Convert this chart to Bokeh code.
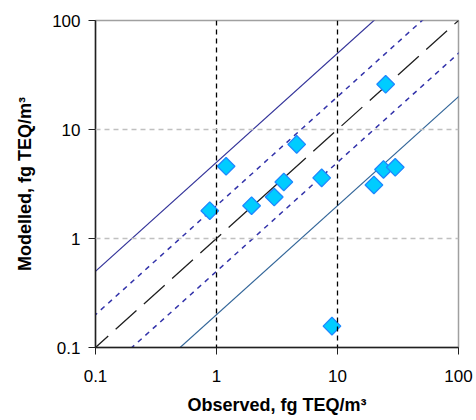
import math
from bokeh.plotting import figure
from bokeh.models import Range1d, FixedTicker, Span
from bokeh.embed import file_html
from bokeh.resources import INLINE

observed = [0.88, 1.2, 1.95, 3.0, 3.6, 4.6, 7.4, 9.0, 20, 24, 30, 25]
modelled = [1.8, 4.6, 2.0, 2.4, 3.3, 7.3, 3.6, 0.157, 3.1, 4.3, 4.5, 26]

ticks = [0.1, 1, 10, 100]
tick_labels = {0.1: "0.1", 1: "1", 10: "10", 100: "100"}
factors = [5, 2, 1, 0.5, 0.2]
factor_colors = ["#333399", "#3333AA", "#202020", "#3333AA", "#336699"]
factor_dash = ["solid", "5 5", "28 10", "5 5", "solid"]
factor_width = [1.2, 1.5, 1.3, 1.5, 1.2]
line_x = [0.01, 1000]

p = figure(width=476, height=418, x_axis_type="log", y_axis_type="log",
           x_range=Range1d(0.1, 100), y_range=Range1d(0.1, 100),
           output_backend="svg", toolbar_location=None,
           min_border_left=95, min_border_right=18, min_border_top=20, min_border_bottom=71)

p.outline_line_color = "#A0A0A0"
p.outline_line_width = 1.5
p.xgrid.visible = False
p.ygrid.visible = False
p.background_fill_color = "white"
p.border_fill_color = "white"

for v in [1, 10]:
    p.add_layout(Span(location=v, dimension="width", line_color="#C0C0C0",
                      line_dash="5 4", line_width=1.3))
    p.add_layout(Span(location=v, dimension="height", line_color="#000000",
                      line_dash="5 4", line_width=1.3))

for f, c, d, w in zip(factors, factor_colors, factor_dash, factor_width):
    p.line(line_x, [f * x for x in line_x], line_color=c, line_dash=d, line_width=w)

p.scatter(observed, modelled, marker="square", size=12.5, angle=math.pi / 4,
          fill_color="#00CCFF", line_color="#1E88FF", line_width=1.3)

for ax in (p.xaxis, p.yaxis):
    ax.ticker = FixedTicker(ticks=ticks, minor_ticks=[])
    ax.major_label_overrides = tick_labels
    ax.major_label_text_font = "Liberation Sans"
    ax.major_label_text_font_size = "17px"
    ax.major_label_text_color = "#000000"
    ax.axis_label_text_font = "Liberation Sans"
    ax.axis_label_text_font_size = "18px"
    ax.axis_label_text_font_style = "bold"
    ax.axis_label_text_color = "#000000"
    ax.axis_line_color = "#202020"
    ax.axis_line_width = 1.5
    ax.major_tick_line_color = "#202020"
    ax.major_tick_out = 7
    ax.major_tick_in = 0
    ax.minor_tick_out = 0
    ax.minor_tick_in = 0

p.xaxis.axis_label = "Observed, fg TEQ/m³"
p.yaxis.axis_label = "Modelled, fg TEQ/m³"
p.xaxis.major_label_standoff = 15
p.xaxis.axis_label_standoff = 10
p.yaxis.major_label_standoff = 8
p.yaxis.axis_label_standoff = 14

open("out.html", "w").write(file_html(p, INLINE))
